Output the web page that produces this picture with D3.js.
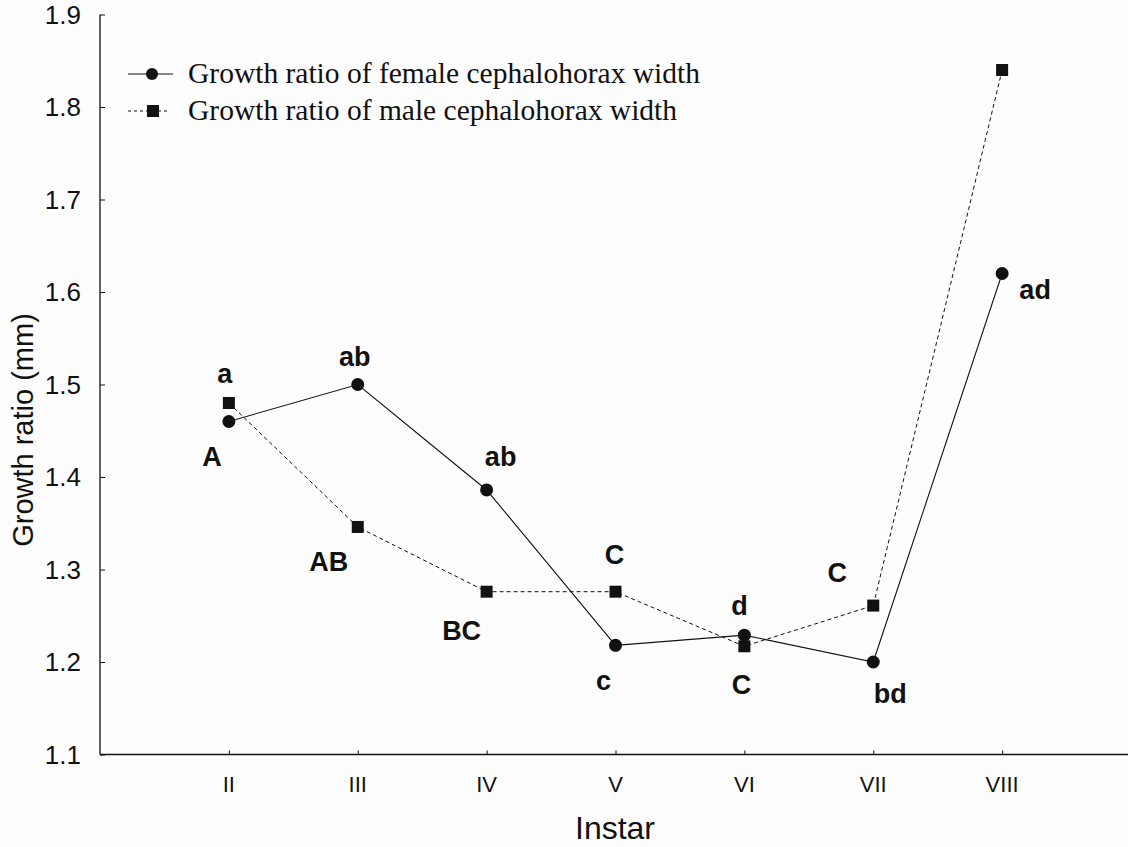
<!DOCTYPE html>
<html>
<head>
<meta charset="utf-8">
<script src="https://cdn.jsdelivr.net/npm/d3@7/dist/d3.min.js"></script>
<style>
  html, body { margin: 0; padding: 0; background: #fdfdfd; }
  svg { display: block; }
</style>
</head>
<body>
<svg id="chart" width="1128" height="847"></svg>
<script>
// ---- data ----
const instars = ["II", "III", "IV", "V", "VI", "VII", "VIII"];
const instarPos = [2, 3, 4, 5, 6, 7, 8];
const femaleRatio = [1.46, 1.50, 1.386, 1.218, 1.229, 1.200, 1.620];
const maleRatio = [1.480, 1.346, 1.276, 1.276, 1.217, 1.261, 1.840];
const femaleLetters = ["a", "ab", "ab", "c", "d", "bd", "ad"];
const maleLetters = ["A", "AB", "BC", "C", "C", "C", ""];
const yTicks = [1.1, 1.2, 1.3, 1.4, 1.5, 1.6, 1.7, 1.8, 1.9];
const legendLabels = ["Growth ratio of female cephalohorax width",
                      "Growth ratio of male cephalohorax width"];

// label placement offsets (dx, dy from the point, to text centre/baseline)
const femaleLabelOffset = [[-4, -39], [-3, -19], [14, -24], [-12, 45], [-5, -20], [17, 41], [33, 25]];
const maleLabelOffset = [[-17, 63], [-29, 44], [-25, 48], [-1, -28], [-3, 48], [-36, -24], [0, 0]];

const svg = d3.select("#chart");
const ink = "#111";

const x = d3.scaleLinear().domain([1, 9]).range([100, 1131]);
const y = d3.scaleLinear().domain([1.1, 1.9]).range([754.5, 14.5]);

// axes lines
svg.append("line").attr("x1", 100).attr("x2", 1128).attr("y1", y(1.1)).attr("y2", y(1.1))
  .attr("stroke", ink).attr("stroke-width", 1.3);
svg.append("line").attr("x1", 100).attr("x2", 100).attr("y1", y(1.9)).attr("y2", y(1.1))
  .attr("stroke", ink).attr("stroke-width", 1.3);

// y ticks (inward)
const yAxis = d3.axisRight(y).tickValues(yTicks).tickSize(5).tickFormat("");
const gy = svg.append("g").attr("transform", "translate(100,0)").call(yAxis);
gy.select(".domain").remove();
gy.selectAll("line").attr("stroke", ink);
svg.append("g").selectAll("text").data(yTicks).join("text")
  .attr("x", 81).attr("y", d => y(d)).attr("dy", "0.36em")
  .attr("text-anchor", "end")
  .style("font-family", "Liberation Sans, Arial, sans-serif")
  .style("font-size", "26px").attr("fill", ink)
  .text(d => d.toFixed(1));

// x ticks (inward)
const xAxis = d3.axisTop(x).tickValues(instarPos).tickSize(4).tickFormat("");
const gx = svg.append("g").attr("transform", `translate(0,${y(1.1)})`).call(xAxis);
gx.select(".domain").remove();
gx.selectAll("line").attr("stroke", ink);
svg.append("g").selectAll("text").data(instarPos).join("text")
  .attr("x", d => x(d)).attr("y", 792)
  .attr("text-anchor", "middle")
  .style("font-family", "Liberation Sans, Arial, sans-serif")
  .style("font-size", "22px").attr("fill", ink)
  .text((d, i) => instars[i]);

// axis titles
svg.append("text").attr("x", 615).attr("y", 839).attr("text-anchor", "middle")
  .style("font-family", "Liberation Sans, Arial, sans-serif")
  .style("font-size", "32px").attr("fill", ink).text("Instar");
svg.append("text").attr("transform", "translate(33,430) rotate(-90)")
  .attr("text-anchor", "middle")
  .style("font-family", "Liberation Sans, Arial, sans-serif")
  .style("font-size", "29px").attr("fill", ink).text("Growth ratio (mm)");

// lines
const femaleData = instarPos.map((p, i) => ({x: p, y: femaleRatio[i]}));
const maleData = instarPos.map((p, i) => ({x: p, y: maleRatio[i]}));
const line = d3.line().x(d => x(d.x)).y(d => y(d.y));

svg.append("path").datum(maleData).attr("d", line)
  .attr("fill", "none").attr("stroke", ink).attr("stroke-width", 1)
  .attr("stroke-dasharray", "4,3");
svg.append("path").datum(femaleData).attr("d", line)
  .attr("fill", "none").attr("stroke", ink).attr("stroke-width", 1.1);

// markers
svg.append("g").selectAll("rect").data(maleData).join("rect")
  .attr("x", d => x(d.x) - 6).attr("y", d => y(d.y) - 6)
  .attr("width", 12).attr("height", 12).attr("fill", ink);
svg.append("g").selectAll("circle").data(femaleData).join("circle")
  .attr("cx", d => x(d.x)).attr("cy", d => y(d.y)).attr("r", 6.5).attr("fill", ink);

// significance letters
const letterStyle = sel => sel
  .attr("text-anchor", "middle")
  .style("font-family", "Liberation Sans, Arial, sans-serif")
  .style("font-weight", "bold").style("font-size", "27px").attr("fill", ink);

svg.append("g").selectAll("text").data(femaleData).join("text")
  .attr("x", (d, i) => x(d.x) + femaleLabelOffset[i][0])
  .attr("y", (d, i) => y(d.y) + femaleLabelOffset[i][1])
  .call(letterStyle)
  .text((d, i) => femaleLetters[i]);
svg.append("g").selectAll("text").data(maleData).join("text")
  .attr("x", (d, i) => x(d.x) + maleLabelOffset[i][0])
  .attr("y", (d, i) => y(d.y) + maleLabelOffset[i][1])
  .call(letterStyle)
  .text((d, i) => maleLetters[i]);

// legend
const lg = svg.append("g");
const rowsY = [74, 111];
lg.append("line").attr("x1", 128).attr("x2", 173).attr("y1", rowsY[0]).attr("y2", rowsY[0])
  .attr("stroke", ink).attr("stroke-width", 1.1);
lg.append("circle").attr("cx", 152).attr("cy", rowsY[0]).attr("r", 6).attr("fill", ink);
lg.append("line").attr("x1", 128).attr("x2", 168).attr("y1", rowsY[1]).attr("y2", rowsY[1])
  .attr("stroke", ink).attr("stroke-width", 1).attr("stroke-dasharray", "3,3");
lg.append("rect").attr("x", 147).attr("y", rowsY[1] - 6).attr("width", 12).attr("height", 12).attr("fill", ink);
lg.selectAll("text").data(legendLabels).join("text")
  .attr("x", 188).attr("y", (d, i) => rowsY[i] + 9)
  .style("font-family", "Liberation Serif, Times New Roman, serif")
  .style("font-size", "29.5px").attr("fill", ink)
  .text(d => d);
</script>
</body>
</html>
